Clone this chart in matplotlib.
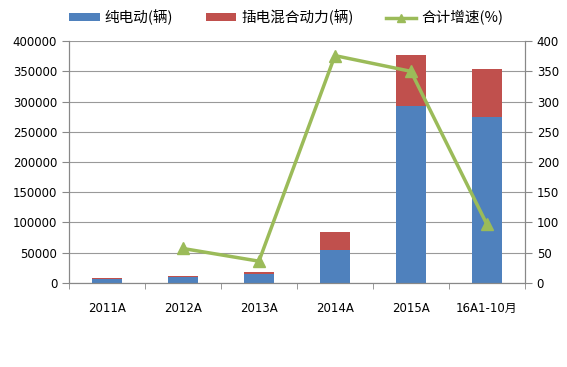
import matplotlib.pyplot as plt
import numpy as np

plt.rcParams['font.family'] = ['DejaVu Sans', 'Noto Sans CJK SC']

categories = ['2011A', '2012A', '2013A', '2014A', '2015A', '16A1-10月']
bev = [6100, 10000, 15000, 55000, 292000, 275000]
phev = [2200, 1700, 3900, 30000, 85500, 79000]
growth = [np.nan, 57, 36, 376, 350, 97]

fig = plt.figure(figsize=(5.67, 3.67), dpi=100)
ax = fig.add_axes([0.1217, 0.229, 0.804, 0.659])
x = np.arange(len(categories))

b1 = ax.bar(x, bev, width=0.4, color='#4F81BD', label='纯电动(辆)', zorder=2)
b2 = ax.bar(x, phev, width=0.4, bottom=bev, color='#C0504D', label='插电混合动力(辆)', zorder=2)

ax.set_ylim(0, 400000)
ax.set_yticks(np.arange(0, 400001, 50000))
ax.set_xlim(-0.5, len(categories) - 0.5)
ax.set_xticks(x)
ax.set_xticklabels(categories)
ax.set_xticks(np.arange(-0.5, len(categories)), minor=True)
ax.tick_params(axis='x', which='major', length=0, pad=14, labelsize=8.5)
ax.tick_params(axis='x', which='minor', length=4, color='#888888')
ax.tick_params(axis='y', length=5, color='#888888', labelsize=8.5)
ax.grid(axis='y', color='#999999', lw=0.8, zorder=0)
ax.spines['top'].set_visible(False)
for s in ['left', 'right', 'bottom']:
    ax.spines[s].set_color('#888888')

ax2 = ax.twinx()
l1, = ax2.plot(x, growth, color='#9BBB59', lw=2.5, marker='^', markersize=8, label='合计增速(%)', zorder=3)
ax2.set_ylim(0, 400)
ax2.set_yticks(np.arange(0, 401, 50))
ax2.tick_params(axis='y', length=5, color='#888888', labelsize=8.5)
ax2.spines['top'].set_visible(False)
for s in ['left', 'right', 'bottom']:
    ax2.spines[s].set_color('#888888')

leg = fig.legend(handles=[b1, b2, l1], loc='upper center', bbox_to_anchor=(0.505, 1.01), ncol=3,
                 frameon=False, handlelength=2.1, handleheight=0.45, columnspacing=2.2, handletextpad=0.35,
                 markerscale=0.7,
                 prop={'family': ['Noto Sans CJK SC', 'DejaVu Sans'], 'size': 10.5})

fig.savefig('out.png', dpi=100)
